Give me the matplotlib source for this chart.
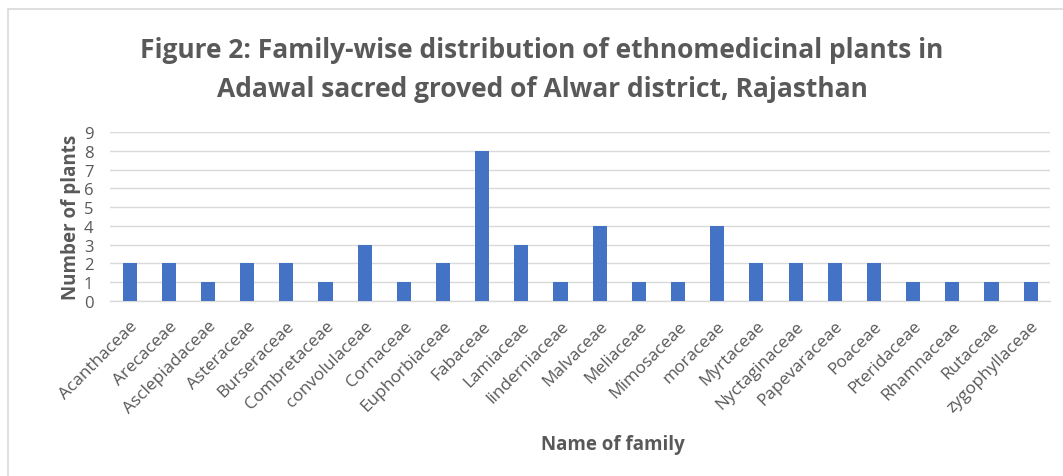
import matplotlib.pyplot as plt
from matplotlib.patches import Rectangle

families = [
    "Acanthaceae", "Arecaceae", "Asclepiadaceae", "Asteraceae", "Burseraceae",
    "Combretaceae", "convolulaceae", "Cornaceae", "Euphorbiaceae", "Fabaceae",
    "Lamiaceae", "linderniaceae", "Malvaceae", "Meliaceae", "Mimosaceae",
    "moraceae", "Myrtaceae", "Nyctaginaceae", "Papevaraceae", "Poaceae",
    "Pteridaceae", "Rhamnaceae", "Rutaceae", "zygophyllaceae",
]
plant_counts = [2, 2, 1, 2, 2, 1, 3, 1, 2, 8, 3, 1, 4, 1, 1, 4, 2, 2, 2, 2, 1, 1, 1, 1]
y_ticks = list(range(0, 10))

plt.rcParams["font.family"] = ["Open Sans", "DejaVu Sans"]
text_grey = "#595959"

fig = plt.figure(figsize=(10.63, 4.77), dpi=100)
fig.patches.append(Rectangle((0.0075, -0.1), 1.2, 1.079, transform=fig.transFigure,
                             fill=False, edgecolor="#D9D9D9", linewidth=1.2))

ax = fig.add_axes([0.1035, 0.367, 0.8845, 0.354])
x = range(len(families))
ax.bar(x, plant_counts, width=0.36, color="#4472C4", zorder=3)
ax.set_xlim(-0.5, len(families) - 0.5)
ax.set_ylim(0, 9)
ax.set_yticks(y_ticks)
ax.set_yticklabels([str(v) for v in y_ticks], fontsize=12, color=text_grey)
ax.set_xticks(list(x))
ax.set_xticklabels(families, rotation=45, ha="right", rotation_mode="anchor",
                   fontsize=12.4, color=text_grey)
ax.tick_params(axis="both", length=0)
ax.tick_params(axis="x", pad=12)
ax.tick_params(axis="y", pad=12)
ax.grid(axis="y", color="#D9D9D9", linewidth=1.0, zorder=0)
for side in ["top", "right", "left"]:
    ax.spines[side].set_visible(False)
ax.spines["bottom"].set_color("#D9D9D9")
ax.spines["bottom"].set_linewidth(1.0)

ax.set_ylabel("Number of plants", fontsize=13.5, fontweight="bold", color=text_grey, labelpad=2)

fig.text(0.577, 0.067, "Name of family", ha="center", va="center",
         fontsize=13.5, fontweight="bold", color=text_grey)
fig.text(0.51, 0.853,
         "Figure 2: Family-wise distribution of ethnomedicinal plants in\nAdawal sacred groved of Alwar district, Rajasthan",
         ha="center", va="center", fontsize=19, fontweight="bold", color=text_grey, linespacing=1.55)

fig.savefig("out.png", dpi=100)
